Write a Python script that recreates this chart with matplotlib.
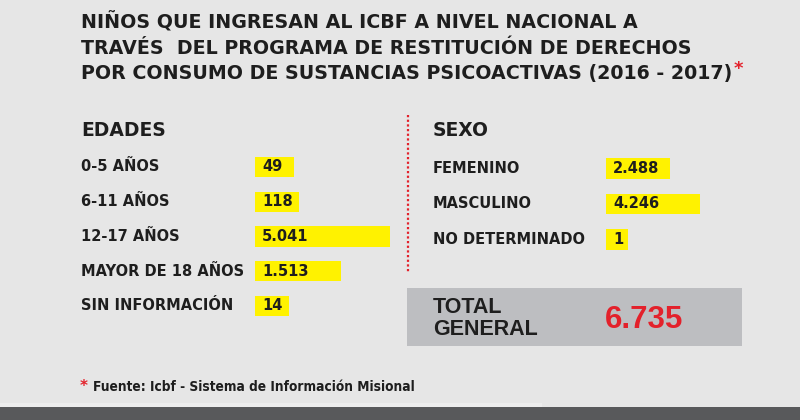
import numpy as np
import matplotlib
matplotlib.use("Agg")
import matplotlib.pyplot as plt
from matplotlib.transforms import blended_transform_factory
from matplotlib.patches import Rectangle
from matplotlib.lines import Line2D

# ---------------- data ----------------
title_lines = [
    "NIÑOS QUE INGRESAN AL ICBF A NIVEL NACIONAL A",
    "TRAVÉS  DEL PROGRAMA DE RESTITUCIÓN DE DERECHOS",
    "POR CONSUMO DE SUSTANCIAS PSICOACTIVAS (2016 - 2017)",
]
edades_title = "EDADES"
edades_labels = ["0-5 AÑOS", "6-11 AÑOS", "12-17 AÑOS", "MAYOR DE 18 AÑOS", "SIN INFORMACIÓN"]
edades_values = [49, 118, 5041, 1513, 14]
sexo_title = "SEXO"
sexo_labels = ["FEMENINO", "MASCULINO", "NO DETERMINADO"]
sexo_values = [2488, 4246, 1]
total_label = ["TOTAL", "GENERAL"]
total_value = 6735
source_text = "Fuente: Icbf - Sistema de Información Misional"

# ---------------- style ----------------
W, H = 800, 420
BG = "#e6e6e6"
YELLOW = "#fff200"
RED = "#e3212b"
DARK = "#1e1e1e"
BODY = ["DejaVu Sans"]
ARIAL = ["Liberation Sans", "DejaVu Sans"]


def fmt(v):
    return f"{v:,}".replace(",", ".")


fig = plt.figure(figsize=(W / 100, H / 100), dpi=100, facecolor=BG)

# background axes in pixel coordinates
bg = fig.add_axes([0, 0, 1, 1])
bg.set_xlim(0, W)
bg.set_ylim(H, 0)
bg.axis("off")
bg.set_facecolor(BG)

# title
title_y = [28.5, 53.5, 79]
tlines = []
for s, y in zip(title_lines, title_y):
    t = bg.text(81, y, s, fontsize=13.7, fontweight="bold", family=BODY,
                color=DARK, va="baseline", ha="left")
    tlines.append(t)
fig.canvas.draw()
r = fig.canvas.get_renderer()
bb = tlines[-1].get_window_extent(renderer=r)
x_end = bg.transData.inverted().transform((bb.x1, 0))[0]
bg.text(x_end + 1, 74, "*", fontsize=13, fontweight="bold", family=BODY,
        color=RED, va="baseline", ha="left")

# section headings
bg.text(81, 136, edades_title, fontsize=13.5, fontweight="bold", family=BODY,
        color=DARK, va="baseline")
bg.text(433, 136, sexo_title, fontsize=13.5, fontweight="bold", family=BODY,
        color=DARK, va="baseline")

# dotted divider
bg.add_line(Line2D([408, 408], [115, 272], color=RED, lw=1.6,
                   linestyle=(0, (1, 1.1))))

# total box
bg.add_patch(Rectangle((407, 288), 335, 58, facecolor="#bdbec1", edgecolor="none"))
bg.text(433, 313, total_label[0], fontsize=15.5, fontweight="bold", family=ARIAL,
        color=DARK, va="baseline")
bg.text(433, 335, total_label[1], fontsize=15.5, fontweight="bold", family=ARIAL,
        color=DARK, va="baseline")
bg.text(605, 328, fmt(total_value), fontsize=22.5, fontweight="bold", family=ARIAL,
        color=RED, va="baseline")

# footnote
bg.text(80, 391, "*", fontsize=11, fontweight="bold", family=BODY, color=RED,
        va="baseline")
bg.text(93, 391, source_text, fontsize=9.8, fontweight="bold", family=BODY,
        fontstretch="condensed", color=DARK, va="baseline")

# bottom band
bg.add_patch(Rectangle((0, 407), W, 13, facecolor="#58595b", edgecolor="none"))
bg.add_patch(Rectangle((0, 403), 542, 4, facecolor="#ededed", edgecolor="none"))


# ---------------- bar panels ----------------
def make_panel(x0, width_px, top_px, row_px, n, base, k, power):
    def fwd(v):
        v = np.asarray(v, dtype=float)
        return np.where(v > 0, base + k * np.power(np.clip(v, 0, None), power), 0.0)

    def inv(y):
        y = np.asarray(y, dtype=float)
        return np.where(y > base, np.power(np.clip((y - base) / k, 0, None), 1 / power), 0.0)

    h_px = row_px * n
    ax = fig.add_axes([x0 / W, 1 - (top_px + h_px) / H, width_px / W, h_px / H])
    ax.set_xscale("function", functions=(fwd, inv))
    ax.set_xlim(0, float(inv(width_px)))
    ax.set_ylim(n - 0.5, -0.5)
    ax.axis("off")
    ax.patch.set_alpha(0)
    return ax


def draw_panel(ax, labels, values, label_x, bar_h, fs):
    idx = np.arange(len(values))
    ax.barh(idx, values, height=bar_h, color=YELLOW, edgecolor="none")
    tr = blended_transform_factory(bg.transData, ax.transData)
    for i, (lab, v) in enumerate(zip(labels, values)):
        ax.text(label_x, i, lab, transform=tr, fontsize=fs, fontweight="bold",
                family=BODY, color=DARK, va="center", ha="left")
        ax.annotate(fmt(v), xy=(0, i), xytext=(7, 0), textcoords="offset pixels",
                    fontsize=fs, fontweight="bold", family=BODY, color=DARK,
                    va="center", ha="left")


left = make_panel(255, 145, 167 - 17.4, 34.75, len(edades_values), 28, 1.5, 0.5)
draw_panel(left, edades_labels, edades_values, 81, 0.58, 10.5)

right = make_panel(606, 130, 168.5 - 17.75, 35.5, len(sexo_values), 22, 0.017, 1.0)
draw_panel(right, sexo_labels, sexo_values, 433, 0.59, 10.5)

fig.savefig("out.png", dpi=100, facecolor=BG)
